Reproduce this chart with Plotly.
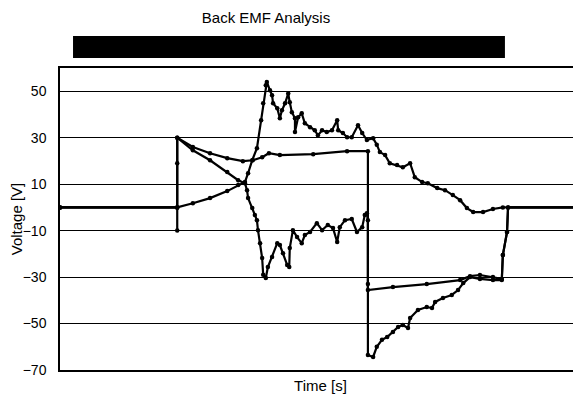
import plotly.graph_objects as go

# ---- data (time in s, voltage in V) ----
t_a = [0, 2.25, 2.55, 2.88, 3.21, 3.42, 3.55, 3.61, 3.69, 3.78, 3.86, 3.90, 3.95, 3.97,
       4.03, 4.07, 4.09, 4.17, 4.22, 4.26, 4.32, 4.38, 4.41, 4.45, 4.51, 4.51, 4.57, 4.64,
       4.70, 4.80, 4.89, 4.95, 5.03, 5.12, 5.22, 5.32, 5.34, 5.43, 5.51, 5.60, 5.72, 5.80,
       5.89, 6.01, 6.08, 6.14, 6.24, 6.33, 6.47, 6.58, 6.72, 6.81, 6.95, 7.06, 7.24, 7.39,
       7.54, 7.68, 7.81, 7.93, 8.12, 8.31, 8.50, 10.0]
v_a = [0, 0, 1.8, 4, 7, 9.6, 10.9, 14.7, 20.3, 25.5, 37.5, 44.8, 52.6, 54,
       50.4, 48.3, 44.8, 42.7, 38.4, 41.8, 44.8, 49, 45.3, 41, 38.4, 32.4, 38.8, 40.5,
       36.2, 34.5, 33.2, 31, 33.2, 32.4, 33.2, 37.5, 33.2, 32, 30.2, 30.2, 35.4, 32,
       29, 29.8, 27, 23.8, 22.5, 19, 18.2, 17.3, 19, 13, 10.9, 10.4, 8.3, 7.4,
       5.3, 3.1, -0.3, -2, -2, -0.7, 0, 0]

t_b = [0, 2.25, 2.25, 2.25, 2.25, 2.55, 2.88, 3.21, 3.51, 3.70, 3.88, 4.01, 4.22, 4.86,
       5.51, 5.91, 5.91, 5.91, 6.39, 7.04, 7.68, 7.87, 8.06, 8.31, 8.48, 8.50, 8.58, 8.60, 10.0]
v_b = [0, 0, -10, 19, 30, 26, 23.3, 21.2, 19.9, 20.3, 21.6, 23.3, 22.5, 22.9,
       24.2, 24.2, -33, -35.6, -34.3, -33, -31.3, -29.6, -29.1, -30, -30.8, -20.5, -10.6, 0, 0]

t_c = [0, 2.25, 2.25, 2.55, 2.88, 3.21, 3.42, 3.55, 3.59, 3.61, 3.69, 3.74, 3.78, 3.80,
       3.84, 3.88, 3.90, 3.95, 3.99, 4.07, 4.17, 4.22, 4.28, 4.36, 4.40, 4.41, 4.47, 4.55,
       4.64, 4.70, 4.80, 4.93, 5.03, 5.14, 5.24, 5.32, 5.37, 5.47, 5.60, 5.70, 5.80, 5.85,
       5.89, 5.91, 5.91, 6.01, 6.08, 6.18, 6.28, 6.39, 6.49, 6.58, 6.68, 6.72, 6.87, 7.04,
       7.14, 7.20, 7.35, 7.52, 7.64, 7.74, 7.87, 8.06, 8.31, 8.48, 8.50, 8.58, 8.60, 10.0]
v_c = [0, 0, 30, 24.6, 20.3, 15.2, 11.7, 10.4, 7.4, 4, -0.3, -3.3, -5.5, -9.8,
       -15.4, -21.8, -29, -30.4, -25.7, -21.4, -15.4, -16.2, -19.7, -24.8, -25.7, -17.5, -9.8, -12.8,
       -15.4, -11.9, -10.6, -6.8, -9.8, -7.6, -8.9, -14.9, -8.5, -5.5, -5, -10.6, -8.5, -3.3,
       -2.5, -5.5, -63.5, -64.4, -60, -57, -55.8, -53.6, -51.5, -50.6, -51.9, -47.6, -44.2, -42.9,
       -43.3, -40.7, -39, -37.7, -35.6, -32.6, -30, -30.8, -31.3, -31.3, -20.5, -10.6, 0, 0]

y_ticks = [50, 30, 10, -10, -30, -50, -70]

fig = go.Figure()
for t, v in [(t_a, v_a), (t_b, v_b), (t_c, v_c)]:
    fig.add_trace(go.Scatter(x=t, y=v, mode="lines+markers",
                             line=dict(color="black", width=2.2),
                             marker=dict(color="black", size=4.5),
                             showlegend=False))

W, H = 573, 395  # page body adds an 8px offset
fig.update_layout(
    width=W, height=H,
    margin=dict(l=52, r=0, t=60, b=33),
    paper_bgcolor="white", plot_bgcolor="white",
    font=dict(family="Liberation Sans, Arial, sans-serif", color="black", size=14),
    title=dict(text="Back EMF Analysis", x=258/W, xanchor="center",
               y=1 - 10/H, yanchor="middle", yref="container",
               font=dict(size=15, color="black")),
    xaxis=dict(range=[0, 10], showticklabels=False, showgrid=False, zeroline=False,
               showline=True, linecolor="black", linewidth=1.5, mirror=True,
               title=dict(text="Time [s]", standoff=10, font=dict(size=15))),
    yaxis=dict(range=[-70, 60], tickvals=y_ticks, showgrid=True, gridcolor="black",
               gridwidth=1.3, zeroline=False, showline=True, linecolor="black",
               linewidth=1.5, ticks="", ticklabelstandoff=9,
               tickfont=dict(size=14),
               title=dict(text="Voltage [V]", standoff=4, font=dict(size=15))),
    shapes=[dict(type="rect", xref="paper", yref="paper",
                 x0=0.025, x1=0.854, y0=1.033, y1=1.106,
                 fillcolor="black", line=dict(width=0))],
)

fig.write_html("out.html")
